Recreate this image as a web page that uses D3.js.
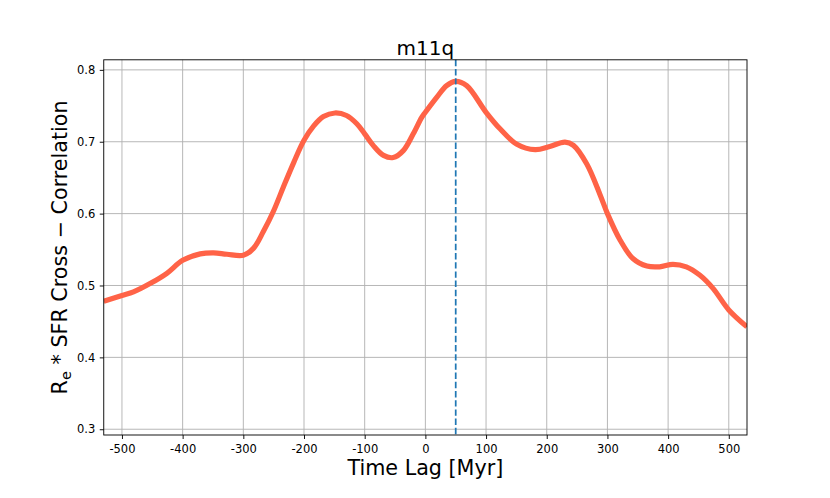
<!DOCTYPE html>
<html>
<head>
<meta charset="utf-8">
<script src="https://cdn.jsdelivr.net/npm/d3@7"></script>
<style>
  html, body { margin: 0; padding: 0; background: #fff; }
  svg { display: block; font-family: "DejaVu Sans", sans-serif; }
</style>
</head>
<body>
<svg id="chart" width="830" height="498"></svg>
<script>
// ---- data ----
const lagMyr = [-530, -500, -481, -453, -426, -400, -371, -349, -327, -300, -283, -267, -250, -234, -217, -200, -184, -168, -149, -130, -113, -100, -86, -69, -53, -36, -20, -6, 0, 19, 35, 50, 68, 100, 123, 150, 181, 205, 230, 244, 266, 288, 300, 321, 342, 365, 386, 408, 430, 452, 474, 500, 530];
const correlation = [0.478, 0.486, 0.491, 0.503, 0.517, 0.535, 0.544, 0.5455, 0.5435, 0.542, 0.552, 0.575, 0.604, 0.637, 0.671, 0.702, 0.722, 0.735, 0.740, 0.7365, 0.725, 0.711, 0.695, 0.681, 0.678, 0.688, 0.711, 0.734, 0.741, 0.762, 0.778, 0.784, 0.778, 0.741, 0.718, 0.697, 0.689, 0.6935, 0.6995, 0.695, 0.669, 0.626, 0.600, 0.563, 0.5375, 0.527, 0.526, 0.5295, 0.526, 0.5145, 0.496, 0.466, 0.4425];
const peakLag = [50];
const xTicks = [-500, -400, -300, -200, -100, 0, 100, 200, 300, 400, 500];
const yTicks = [0.3, 0.4, 0.5, 0.6, 0.7, 0.8];
const xDomain = [-530, 530];
const yDomain = [0.292, 0.814];
const titleText = "m11q";
const xLabelText = "Time Lag [Myr]";

// ---- layout ----
const L = 103.75, R = 747, T = 59.8, B = 435;
const svg = d3.select("#chart");
const x = d3.scaleLinear().domain(xDomain).range([L, R]);
const y = d3.scaleLinear().domain(yDomain).range([B, T]);

svg.append("defs").append("clipPath").attr("id", "clip")
  .append("rect").attr("x", L).attr("y", T).attr("width", R - L).attr("height", B - T);

// grid
const grid = svg.append("g").attr("stroke", "#b0b0b0").attr("stroke-width", 0.92);
grid.selectAll(".gx").data(xTicks).join("line")
  .attr("x1", d => x(d)).attr("x2", d => x(d)).attr("y1", T).attr("y2", B);
grid.selectAll(".gy").data(yTicks).join("line")
  .attr("x1", L).attr("x2", R).attr("y1", d => y(d)).attr("y2", d => y(d));

// data line
const pts = lagMyr.map((v, i) => [v, correlation[i]]);
const line = d3.line().x(d => x(d[0])).y(d => y(d[1])).curve(d3.curveCatmullRom.alpha(0.5));
svg.append("path").datum(pts)
  .attr("clip-path", "url(#clip)")
  .attr("d", line)
  .attr("fill", "none")
  .attr("stroke", "#ff6347")
  .attr("stroke-width", 5.2)
  .attr("stroke-linejoin", "round");

// peak dashed line
svg.selectAll(".peak").data(peakLag).join("line")
  .attr("x1", d => x(d)).attr("x2", d => x(d)).attr("y1", T).attr("y2", B)
  .attr("stroke", "#1f77b4").attr("stroke-width", 1.73)
  .attr("stroke-dasharray", "6.4,2.8");

// axes
const xAxis = d3.axisBottom(x).tickValues(xTicks).tickFormat(d3.format("d"))
  .tickSize(4).tickPadding(5.5);
const gx = svg.append("g").attr("transform", `translate(0,${B})`).call(xAxis);
const yAxis = d3.axisLeft(y).tickValues(yTicks).tickFormat(d3.format(".1f"))
  .tickSize(4).tickPadding(4.5);
const gy = svg.append("g").attr("transform", `translate(${L},0)`).call(yAxis);
[gx, gy].forEach(g => {
  g.select(".domain").remove();
  g.selectAll(".tick line").attr("stroke", "#000").attr("stroke-width", 0.92);
  g.selectAll(".tick text").attr("fill", "#000")
    .style("font-family", "'DejaVu Sans', sans-serif").style("font-size", "11.5px");
});
gx.selectAll(".tick text").text(d => String(d));

// frame
svg.append("rect").attr("x", L).attr("y", T).attr("width", R - L).attr("height", B - T)
  .attr("fill", "none").attr("stroke", "#000").attr("stroke-width", 0.92);

// title
svg.append("text").attr("x", (L + R) / 2).attr("y", 55)
  .attr("text-anchor", "middle").style("font-size", "20px").text(titleText);

// x label
svg.append("text").attr("x", (L + R) / 2).attr("y", 475)
  .attr("text-anchor", "middle").style("font-size", "20.7px").text(xLabelText);

// y label
const yl = svg.append("text")
  .attr("transform", `translate(66.5,${(T + B) / 2}) rotate(-90)`)
  .attr("text-anchor", "middle").style("font-size", "20.7px");
yl.append("tspan").text("R");
yl.append("tspan").attr("dy", "4").style("font-size", "14.5px").text("e");
yl.append("tspan").attr("dy", "-4").text(" * SFR Cross \u2212 Correlation");
</script>
</body>
</html>
